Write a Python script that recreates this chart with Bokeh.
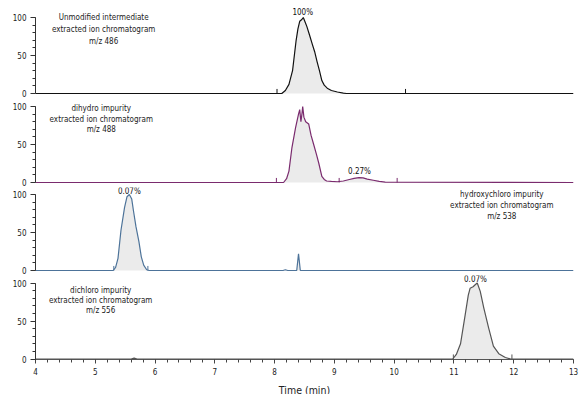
from bokeh.plotting import figure
from bokeh.layouts import column
from bokeh.models import FixedTicker, Range1d
from bokeh.core.properties import value
from bokeh.embed import file_html
from bokeh.resources import INLINE

FONT = "'DejaVu Sans Condensed', 'Liberation Sans', sans-serif"

# ---------------- data ----------------
x_ticks = [4, 5, 6, 7, 8, 9, 10, 11, 12, 13]
y_ticks = [0, 50, 100]

# Panel 1: unmodified intermediate, m/z 486
t1 = [4.0, 8.12, 8.18, 8.24, 8.30, 8.33, 8.36, 8.39, 8.42, 8.45, 8.48, 8.51, 8.54,
      8.58, 8.63, 8.67, 8.71, 8.75, 8.79, 8.83, 8.88, 8.95, 9.05, 9.15, 9.20, 13.0]
v1 = [0, 0, 4, 12, 30, 50, 70, 85, 95, 97, 100, 94, 88,
      78, 65, 55, 42, 30, 17, 11, 7, 4, 2, 0.5, 0, 0]
m1 = [8.04, 10.19]
lab1 = ["Unmodified intermediate", "extracted ion chromatogram", "m/z 486"]
lab1_x = 5.14
lab1_y = [100, 84, 68.5]
pct1 = "100%"
pct1_x, pct1_y = 8.47, 106

# Panel 2: dihydro impurity, m/z 488
t2 = [4.0, 8.15, 8.20, 8.24, 8.29, 8.35, 8.40, 8.42, 8.44, 8.46, 8.47, 8.49, 8.52,
      8.57, 8.61, 8.65, 8.70, 8.74, 8.79, 8.83, 8.87, 8.95, 9.05, 9.15, 9.25, 9.33,
      9.41, 9.48, 9.55, 9.65, 9.75, 9.85, 13.0]
v2 = [0, 0, 5, 15, 46, 72, 90, 96, 80, 92, 100, 86, 80,
      77, 62, 51, 37, 25, 8, 4, 2, 1.5, 1, 2, 4, 5.5,
      6.5, 6, 4.5, 3, 1.5, 0.5, 0]
m2 = [8.03, 9.08, 10.05]
lab2 = ["dihydro impurity", "extracted ion chromatogram", "m/z 488"]
lab2_x = 5.1
lab2_y = [98, 83.5, 69.5]
pct2 = "0.27%"
pct2_x, pct2_y = 9.42, 15

# Panel 3: hydroxychloro impurity, m/z 538
t3 = [4.0, 5.30, 5.34, 5.38, 5.43, 5.49, 5.53, 5.57, 5.61, 5.64, 5.68, 5.73, 5.77,
      5.81, 5.86, 5.90, 8.14, 8.18, 8.22, 8.37, 8.40, 8.43, 8.46, 13.0]
v3 = [0, 0, 4, 16, 53, 83, 97, 100, 94, 78, 58, 38, 18,
      7, 1, 0, 0, 1, 0, 0, 22, 0, 0, 0]
m3 = [5.31, 5.88]
lab3 = ["hydroxychloro impurity", "extracted ion chromatogram", "m/z 538"]
lab3_x = 11.8
lab3_y = [100, 85.5, 71.5]
pct3 = "0.07%"
pct3_x, pct3_y = 5.57, 104

# Panel 4: dichloro impurity, m/z 556
t4 = [4.0, 5.60, 5.65, 5.70, 10.98, 11.04, 11.11, 11.19, 11.24, 11.27, 11.32, 11.36,
      11.39, 11.44, 11.50, 11.58, 11.66, 11.75, 11.86, 11.95, 13.0]
v4 = [0, 0, 1.2, 0, 0, 6, 20, 59, 84, 93, 95, 98,
      100, 89, 67, 41, 17, 7, 2, 0, 0]
m4 = [10.99, 11.97]
lab4 = ["dichloro impurity", "extracted ion chromatogram", "m/z 556"]
lab4_x = 5.09
lab4_y = [90, 77, 64]
pct4 = "0.07%"
pct4_x, pct4_y = 11.36, 105

SCALE = 0.76  # px per % unit


def panel(t, v, color, marks, labs, lx, ly, pct, px, py, fh, pad, bottom=False):
    y0 = -pad / SCALE
    p = figure(frame_width=538, frame_height=fh,
               x_range=Range1d(4, 13), y_range=Range1d(y0, y0 + fh / SCALE),
               output_backend="svg", toolbar_location=None,
               x_axis_location="below" if bottom else None,
               min_border_left=35, min_border_right=9,
               min_border_top=0, min_border_bottom=0)
    p.outline_line_color = None
    p.grid.visible = False
    p.background_fill_color = "white"
    p.border_fill_color = "white"

    ya = p.yaxis[0]
    ya.ticker = FixedTicker(ticks=y_ticks,
                            minor_ticks=[i * 10 for i in range(0, 11)])
    ya.bounds = (0, 100)
    ya.axis_line_color = "#333333"
    ya.axis_line_width = 1
    ya.major_tick_line_color = "#333333"
    ya.minor_tick_line_color = "#333333"
    ya.major_tick_in = 0
    ya.major_tick_out = 5
    ya.minor_tick_in = 0
    ya.minor_tick_out = 3
    ya.major_label_standoff = 4
    ya.major_label_text_font = FONT
    ya.major_label_text_font_size = "8px"
    ya.major_label_text_color = "#222222"

    if bottom:
        xa = p.xaxis[0]
        xa.ticker = FixedTicker(ticks=x_ticks,
                                minor_ticks=[4 + i * 0.2 for i in range(0, 46)])
        xa.axis_line_color = "#555555"
        xa.major_tick_line_color = "#444444"
        xa.minor_tick_line_color = "#444444"
        xa.major_tick_in = 0
        xa.major_tick_out = 4
        xa.minor_tick_in = 0
        xa.minor_tick_out = 3
        xa.major_label_standoff = 4
        xa.major_label_text_font = FONT
        xa.major_label_text_font_size = "8px"
        xa.major_label_text_color = "#222222"
        xa.axis_label = "Time (min)"
        xa.axis_label_text_font = FONT
        xa.axis_label_text_font_style = "normal"
        xa.axis_label_text_font_size = "10.5px"
        xa.axis_label_text_color = "#222222"
        xa.axis_label_standoff = 6

    p.varea(x=t, y1=0, y2=v, fill_color="#ebebeb")
    p.line(x=t, y=v, line_color=color, line_width=1.2)
    p.segment(x0=marks, y0=0, x1=marks, y1=6, line_color=color, line_width=1)
    p.text(x=[lx] * len(labs), y=ly, text=labs, text_font=value(FONT),
           text_font_size="8px", text_align="center", text_baseline="middle",
           text_color="#222222")
    p.text(x=[px], y=[py], text=[pct], text_font=value(FONT),
           text_font_size="8px", text_align="center", text_baseline="middle",
           text_color="#111111")
    return p


p1 = panel(t1, v1, "#111111", m1, lab1, lab1_x, lab1_y, pct1, pct1_x, pct1_y, 98, 5)
p2 = panel(t2, v2, "#7a2b6e", m2, lab2, lab2_x, lab2_y, pct2, pct2_x, pct2_y, 89, 5)
p3 = panel(t3, v3, "#4d7399", m3, lab3, lab3_x, lab3_y, pct3, pct3_x, pct3_y, 88, 5)
p4 = panel(t4, v4, "#555555", m4, lab4, lab4_x, lab4_y, pct4, pct4_x, pct4_y, 84, 0.5,
           bottom=True)

layout = column(p1, p2, p3, p4, spacing=0)

open("out.html", "w").write(file_html(layout, INLINE))
